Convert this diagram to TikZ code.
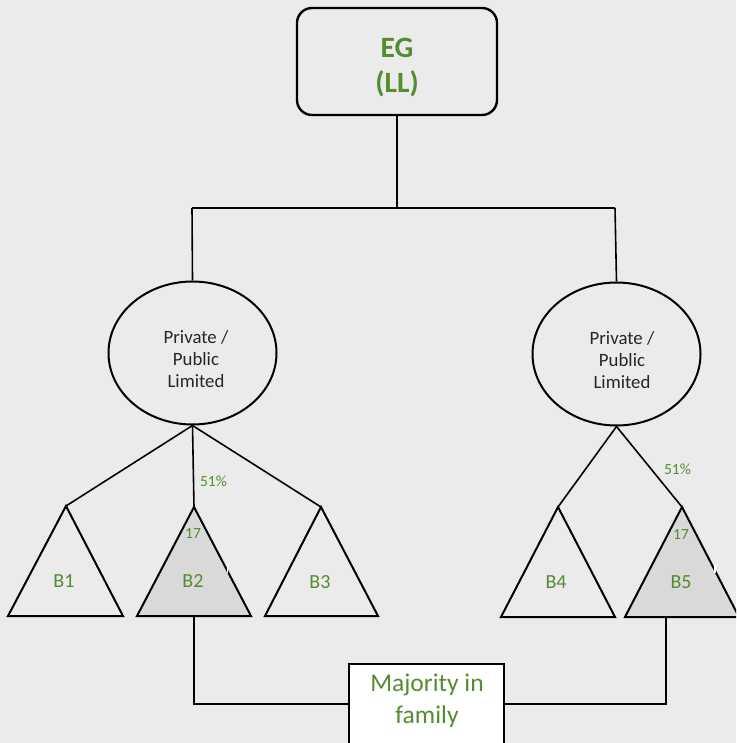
\documentclass[tikz,border=0pt]{standalone}
\usepackage{fontspec}
\setmainfont{Carlito}
\usetikzlibrary{shapes.geometric}
\definecolor{bg}{RGB}{235,235,235}
\definecolor{leaf}{RGB}{84,140,48}
\definecolor{shade}{RGB}{217,217,217}
\definecolor{ink}{RGB}{38,38,38}
\begin{document}
\begin{tikzpicture}[x=1pt,y=-1pt,
  link/.style={draw=black,line width=1.6pt},
  parent/.style={rectangle,rounded corners=15pt,draw,line width=2.4pt,
    minimum width=200pt,minimum height=107pt,inner sep=0pt},
  parenttext/.style={inner sep=0pt,align=center,text=leaf,
    font=\fontsize{29.5}{35}\selectfont\bfseries},
  entity/.style={ellipse,draw,line width=2pt,minimum width=168pt,
    minimum height=143pt,inner sep=0pt},
  entitytext/.style={inner sep=0pt,align=center,text=ink,
    font=\fontsize{18.8}{21.8}\selectfont},
  branch/.style={draw=black,line width=2pt,line join=miter},
  blabel/.style={inner sep=0pt,text=leaf,font=\fontsize{20}{24}\selectfont},
  small/.style={inner sep=0pt,text=leaf,font=\fontsize{15.5}{18}\selectfont},
  family/.style={rectangle,draw,fill=white,line width=1.6pt,
    minimum width=155pt,minimum height=80pt,inner sep=0pt},
  familytext/.style={inner sep=0pt,align=center,text=leaf,
    font=\fontsize{25.5}{31.5}\selectfont},
  notch/.style={draw=white,line width=1.6pt}]
  % canvas
  \fill[bg] (0,0) rectangle (736,743);
  \useasboundingbox (0,0) rectangle (736,743);
  \clip (0,0) rectangle (736,743);

  % top entity and its split
  \node[parent] (eg) at (397,61.5) {};
  \node[parenttext] (egt) at (397,67.5) {EG\\(LL)};
  \coordinate (junc) at (397,208);
  \coordinate (lj) at (192,208);
  \coordinate (rj) at (615,208);

  \node[entity] (le) at (192.5,353) {};
  \node[entitytext] (let) at (196,359) {Private /\\Public\\Limited};
  \node[entity] (re) at (616.5,354) {};
  \node[entitytext] (ret) at (622,360) {Private /\\Public\\Limited};

  \draw[link] (eg.south) -- (junc);
  \draw[link] (lj) -- (rj);
  \draw[link] (lj) -- (le.north);
  \draw[link] (rj) -- (re.north);

  % left group of branches
  \coordinate (b1top) at (66,506);
  \coordinate (b2top) at (194,507);
  \coordinate (b3top) at (321,507);
  \draw[branch] (b1top) -- (123,616) -- (8,616) -- cycle;
  \draw[branch,fill=shade] (b2top) -- (251,616) -- (137,616) -- cycle;
  \draw[branch] (b3top) -- (378,616) -- (265,616) -- cycle;
  \draw[notch] (227.6,564) -- (227.6,573);
  \draw[link] (le.south) -- (b1top);
  \draw[link] (le.south) -- (b2top);
  \draw[link] (le.south) -- (b3top);

  \node[blabel] (b1) at (64,581) {B1};
  \node[blabel] (b2) at (193,581) {B2};
  \node[blabel] (b3) at (320,582) {B3};
  \node[small] (pl) at (213.5,481) {51\%};
  \node[small] (sl) at (193,534) {17};

  % right group of branches
  \coordinate (b4top) at (558,507);
  \coordinate (b5top) at (682,507);
  \draw[branch] (b4top) -- (615,617) -- (501,617) -- cycle;
  \draw[branch,fill=shade] (b5top) -- (739,617) -- (625,617) -- cycle;
  \draw[notch] (714.8,565) -- (714.8,573);
  \draw[link] (re.south) -- (b4top);
  \draw[link] (re.south) -- (b5top);

  \node[blabel] (b4) at (556,582) {B4};
  \node[blabel] (b5) at (681,582) {B5};
  \node[small] (pr) at (677.5,469) {51\%};
  \node[small] (sr) at (681,535) {17};

  % family ownership
  \coordinate (b2foot) at (194,616);
  \coordinate (b5foot) at (666,617);
  \node[family] (maj) at (426.5,704) {};
  \node[familytext] (majt) at (427,701) {Majority in\\family};
  \draw[link] (b2foot) |- (maj.west);
  \draw[link] (maj.east) -| (b5foot);
\end{tikzpicture}
\end{document}
